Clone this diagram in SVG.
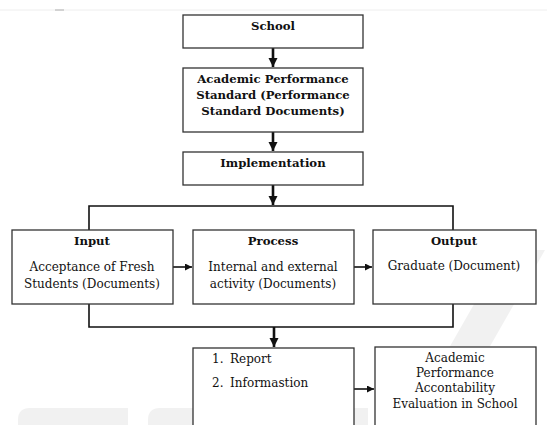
<svg xmlns="http://www.w3.org/2000/svg" width="547" height="425" viewBox="0 0 547 425">
<style>
.box{fill:#fff;stroke:#333;stroke-width:1.3}
.t{text-anchor:middle}
.s{text-anchor:start}
.b{font-weight:bold;font-size:11.7px}
.ln{fill:none;stroke:#111;stroke-width:1.6}
.th{fill:none;stroke:#111;stroke-width:2.6}
.wm{fill:#f1f1f1}
</style>
<defs>
<marker id="ah" viewBox="0 0 10 10" refX="10" refY="5" markerWidth="7" markerHeight="7" markerUnits="userSpaceOnUse" orient="auto"><path d="M0,0 L10,5 L0,10 z" fill="#111"/></marker>
<marker id="av" viewBox="0 0 10 10" refX="10" refY="5" markerWidth="3.5" markerHeight="3.5" orient="auto"><path d="M0,0 L10,5 L0,10 z" fill="#111"/></marker>
</defs>
<rect width="547" height="425" fill="#fff"/>
<g id="watermark">
<line x1="0" y1="10" x2="547" y2="10" stroke="#eee" stroke-width="1"/>
<line x1="55" y1="10" x2="64" y2="10" stroke="#bbb" stroke-width="1.2"/>
<path class="wm" d="M505,250 L545,250 L445,425 L405,425 z"/>
<path class="wm" d="M18,425 L18,420 Q18,408 30,408 L128,408 L128,425 z"/>
<path class="wm" d="M148,425 L148,420 Q148,408 160,408 L258,408 L258,425 z"/>
<rect class="wm" x="273" y="408" width="20" height="17"/>
<rect class="wm" x="308" y="408" width="60" height="17"/>
</g>
<g id="connectors">
<line class="th" x1="273" y1="48" x2="273" y2="67" marker-end="url(#av)"/>
<line class="th" x1="273" y1="132" x2="273" y2="151" marker-end="url(#av)"/>
<line class="th" x1="273" y1="185" x2="273" y2="205" marker-end="url(#av)"/>
<polyline class="ln" points="89,230 89,206 453,206 453,230"/>
<line class="ln" x1="173" y1="267" x2="192" y2="267" marker-end="url(#ah)"/>
<line class="ln" x1="354" y1="267" x2="372" y2="267" marker-end="url(#ah)"/>
<polyline class="ln" points="89,304 89,327 453,327 453,304"/>
<line class="th" x1="274" y1="327" x2="274" y2="347" marker-end="url(#av)"/>
<line class="ln" x1="354" y1="389" x2="374" y2="389" marker-end="url(#ah)"/>
</g>
<g font-family="DejaVu Serif, serif" font-size="12" fill="#111">
<g id="school">
<rect class="box" x="183" y="15" width="180" height="33"/>
<text class="t b" x="273" y="30">School</text>
</g>
<g id="standard">
<rect class="box" x="183" y="68" width="180" height="64"/>
<text class="t b" x="273" y="83">Academic Performance</text>
<text class="t b" x="273" y="99">Standard (Performance</text>
<text class="t b" x="273" y="115">Standard Documents)</text>
</g>
<g id="implementation">
<rect class="box" x="183" y="152" width="180" height="33"/>
<text class="t b" x="273" y="167">Implementation</text>
</g>
<g id="input">
<rect class="box" x="12" y="230" width="161" height="74"/>
<text class="t b" x="92" y="245">Input</text>
<text class="t" x="92" y="271">Acceptance of Fresh</text>
<text class="t" x="92" y="288">Students (Documents)</text>
</g>
<g id="process">
<rect class="box" x="193" y="230" width="161" height="74"/>
<text class="t b" x="273" y="245">Process</text>
<text class="t" x="273" y="271">Internal and external</text>
<text class="t" x="273" y="288">activity (Documents)</text>
</g>
<g id="output">
<rect class="box" x="373" y="230" width="163" height="74"/>
<text class="t b" x="454" y="245">Output</text>
<text class="t" x="454" y="270">Graduate (Document)</text>
</g>
<g id="report">
<rect class="box" x="193" y="348" width="161" height="90"/>
<text class="s" x="212" y="363">1.<tspan x="230">Report</tspan></text>
<text class="s" x="212" y="387">2.<tspan x="230">Informastion</tspan></text>
</g>
<g id="evaluation">
<rect class="box" x="375" y="347" width="161" height="90"/>
<text class="t" x="455" y="362">Academic</text>
<text class="t" x="455" y="377">Performance</text>
<text class="t" x="455" y="392">Accontability</text>
<text class="t" x="455" y="408">Evaluation in School</text>
</g>
</g>
</svg>
